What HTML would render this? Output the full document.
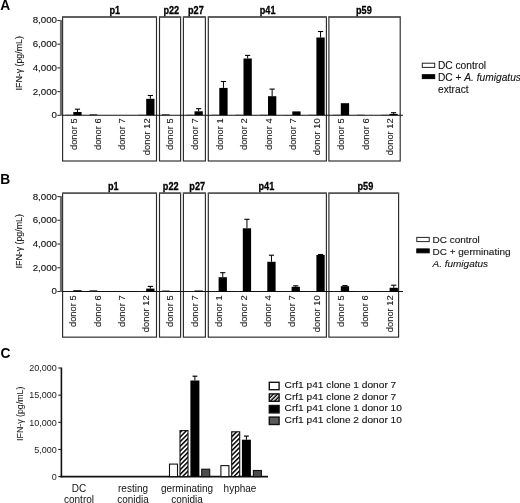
<!DOCTYPE html>
<html><head><meta charset="utf-8"><style>
html,body{margin:0;padding:0;background:#fff;width:520px;height:503px;overflow:hidden}
svg{display:block;font-family:"Liberation Sans", sans-serif;filter:blur(0.35px)}
</style></head><body>
<svg width="520" height="503" viewBox="0 0 520 503">
<defs>
<pattern id="hatch" patternUnits="userSpaceOnUse" width="3.3" height="5" patternTransform="rotate(45)">
<rect width="3.3" height="5" fill="#fff"/><rect width="1.5" height="5" fill="#000"/></pattern>
<pattern id="hatchL" patternUnits="userSpaceOnUse" width="2.9" height="4" patternTransform="rotate(45)">
<rect width="2.9" height="4" fill="#000"/><rect width="1.45" height="4" fill="#fff"/></pattern>
</defs>
<rect width="520" height="503" fill="#fff"/>
<text transform="translate(0.30 9.80)" font-size="13.80" text-anchor="start" font-weight="bold" font-style="normal" fill="#000">A</text>
<text transform="translate(21.60 63.30) scale(0.86 0.92) rotate(-90)" font-size="9.57" text-anchor="middle" font-weight="normal" font-style="normal" fill="#111" stroke="#111" stroke-width="0.12">IFN-γ (pg/mL)</text>
<line x1="57.40" y1="20.50" x2="61.00" y2="20.50" stroke="#333" stroke-width="1.1"/>
<text transform="translate(57.00 23.45) scale(1.0 0.955)" font-size="9.75" text-anchor="end" font-weight="normal" font-style="normal" fill="#111" stroke="#111" stroke-width="0.12">8,000</text>
<line x1="57.40" y1="44.20" x2="61.00" y2="44.20" stroke="#333" stroke-width="1.1"/>
<text transform="translate(57.00 47.15) scale(1.0 0.955)" font-size="9.75" text-anchor="end" font-weight="normal" font-style="normal" fill="#111" stroke="#111" stroke-width="0.12">6,000</text>
<line x1="57.40" y1="67.90" x2="61.00" y2="67.90" stroke="#333" stroke-width="1.1"/>
<text transform="translate(57.00 70.85) scale(1.0 0.955)" font-size="9.75" text-anchor="end" font-weight="normal" font-style="normal" fill="#111" stroke="#111" stroke-width="0.12">4,000</text>
<line x1="57.40" y1="91.60" x2="61.00" y2="91.60" stroke="#333" stroke-width="1.1"/>
<text transform="translate(57.00 94.55) scale(1.0 0.955)" font-size="9.75" text-anchor="end" font-weight="normal" font-style="normal" fill="#111" stroke="#111" stroke-width="0.12">2,000</text>
<line x1="57.40" y1="115.30" x2="61.00" y2="115.30" stroke="#333" stroke-width="1.1"/>
<text transform="translate(57.00 118.25) scale(1.0 0.955)" font-size="9.75" text-anchor="end" font-weight="normal" font-style="normal" fill="#111" stroke="#111" stroke-width="0.12">0</text>
<rect x="62.60" y="17.00" width="93.90" height="144.00" fill="none" stroke="#2a2a2a" stroke-width="1.15" />
<line x1="62.10" y1="17.00" x2="157.00" y2="17.00" stroke="#555" stroke-width="1.5"/>
<text transform="translate(114.80 13.60) scale(0.878 1.0)" font-size="10.40" text-anchor="middle" font-weight="bold" font-style="normal" fill="#000" stroke="#000" stroke-width="0.3">p1</text>
<rect x="159.50" y="17.00" width="21.10" height="144.00" fill="none" stroke="#2a2a2a" stroke-width="1.15" />
<line x1="159.00" y1="17.00" x2="181.10" y2="17.00" stroke="#555" stroke-width="1.5"/>
<text transform="translate(171.30 13.60) scale(0.878 1.0)" font-size="10.40" text-anchor="middle" font-weight="bold" font-style="normal" fill="#000" stroke="#000" stroke-width="0.3">p22</text>
<rect x="183.40" y="17.00" width="22.00" height="144.00" fill="none" stroke="#2a2a2a" stroke-width="1.15" />
<line x1="182.90" y1="17.00" x2="205.90" y2="17.00" stroke="#555" stroke-width="1.5"/>
<text transform="translate(195.90 13.60) scale(0.878 1.0)" font-size="10.40" text-anchor="middle" font-weight="bold" font-style="normal" fill="#000" stroke="#000" stroke-width="0.3">p27</text>
<rect x="208.30" y="17.00" width="118.10" height="144.00" fill="none" stroke="#2a2a2a" stroke-width="1.15" />
<line x1="207.80" y1="17.00" x2="326.90" y2="17.00" stroke="#555" stroke-width="1.5"/>
<text transform="translate(267.60 13.60) scale(0.878 1.0)" font-size="10.40" text-anchor="middle" font-weight="bold" font-style="normal" fill="#000" stroke="#000" stroke-width="0.3">p41</text>
<rect x="328.90" y="17.00" width="71.30" height="144.00" fill="none" stroke="#2a2a2a" stroke-width="1.15" />
<line x1="328.40" y1="17.00" x2="400.70" y2="17.00" stroke="#555" stroke-width="1.5"/>
<text transform="translate(363.90 13.60) scale(0.878 1.0)" font-size="10.40" text-anchor="middle" font-weight="bold" font-style="normal" fill="#000" stroke="#000" stroke-width="0.3">p59</text>
<line x1="62.00" y1="115.30" x2="403.00" y2="115.30" stroke="#111" stroke-width="1.1"/>
<line x1="61.00" y1="20.00" x2="61.00" y2="115.80" stroke="#6e6e6e" stroke-width="2.2"/>
<rect x="65.30" y="114.80" width="7.70" height="0.50" fill="#222" stroke="none" stroke-width="0" />
<rect x="73.30" y="112.00" width="8.30" height="3.30" fill="#000" stroke="none" stroke-width="0" />
<line x1="77.45" y1="112.00" x2="77.45" y2="109.20" stroke="#000" stroke-width="1"/>
<line x1="74.85" y1="109.20" x2="80.05" y2="109.20" stroke="#000" stroke-width="1.1"/>
<text transform="translate(76.80 118.20) scale(0.9 0.92) rotate(-90)" font-size="10.22" text-anchor="end" font-weight="normal" font-style="normal" fill="#111" stroke="#111" stroke-width="0.1">donor 5</text>
<rect x="89.60" y="114.30" width="7.70" height="1.00" fill="#222" stroke="none" stroke-width="0" />
<text transform="translate(101.10 118.20) scale(0.9 0.92) rotate(-90)" font-size="10.22" text-anchor="end" font-weight="normal" font-style="normal" fill="#111" stroke="#111" stroke-width="0.1">donor 6</text>
<text transform="translate(125.40 118.20) scale(0.9 0.92) rotate(-90)" font-size="10.22" text-anchor="end" font-weight="normal" font-style="normal" fill="#111" stroke="#111" stroke-width="0.1">donor 7</text>
<rect x="138.20" y="114.80" width="7.70" height="0.50" fill="#222" stroke="none" stroke-width="0" />
<rect x="146.20" y="98.80" width="8.30" height="16.50" fill="#000" stroke="none" stroke-width="0" />
<line x1="150.35" y1="98.80" x2="150.35" y2="95.50" stroke="#000" stroke-width="1"/>
<line x1="147.75" y1="95.50" x2="152.95" y2="95.50" stroke="#000" stroke-width="1.1"/>
<text transform="translate(149.70 118.20) scale(0.9 0.92) rotate(-90)" font-size="10.22" text-anchor="end" font-weight="normal" font-style="normal" fill="#111" stroke="#111" stroke-width="0.1">donor 12</text>
<rect x="161.90" y="114.30" width="7.70" height="1.00" fill="#222" stroke="none" stroke-width="0" />
<text transform="translate(173.40 118.20) scale(0.9 0.92) rotate(-90)" font-size="10.22" text-anchor="end" font-weight="normal" font-style="normal" fill="#111" stroke="#111" stroke-width="0.1">donor 5</text>
<rect x="186.50" y="114.80" width="7.70" height="0.50" fill="#222" stroke="none" stroke-width="0" />
<rect x="194.50" y="111.30" width="8.30" height="4.00" fill="#000" stroke="none" stroke-width="0" />
<line x1="198.65" y1="111.30" x2="198.65" y2="108.70" stroke="#000" stroke-width="1"/>
<line x1="196.05" y1="108.70" x2="201.25" y2="108.70" stroke="#000" stroke-width="1.1"/>
<text transform="translate(198.00 118.20) scale(0.9 0.92) rotate(-90)" font-size="10.22" text-anchor="end" font-weight="normal" font-style="normal" fill="#111" stroke="#111" stroke-width="0.1">donor 7</text>
<rect x="211.30" y="114.80" width="7.70" height="0.50" fill="#222" stroke="none" stroke-width="0" />
<rect x="219.30" y="87.90" width="8.30" height="27.40" fill="#000" stroke="none" stroke-width="0" />
<line x1="223.45" y1="87.90" x2="223.45" y2="81.50" stroke="#000" stroke-width="1"/>
<line x1="220.85" y1="81.50" x2="226.05" y2="81.50" stroke="#000" stroke-width="1.1"/>
<text transform="translate(222.80 118.20) scale(0.9 0.92) rotate(-90)" font-size="10.22" text-anchor="end" font-weight="normal" font-style="normal" fill="#111" stroke="#111" stroke-width="0.1">donor 1</text>
<rect x="235.50" y="114.80" width="7.70" height="0.50" fill="#222" stroke="none" stroke-width="0" />
<rect x="243.50" y="58.50" width="8.30" height="56.80" fill="#000" stroke="none" stroke-width="0" />
<line x1="247.65" y1="58.50" x2="247.65" y2="55.40" stroke="#000" stroke-width="1"/>
<line x1="245.05" y1="55.40" x2="250.25" y2="55.40" stroke="#000" stroke-width="1.1"/>
<text transform="translate(247.00 118.20) scale(0.9 0.92) rotate(-90)" font-size="10.22" text-anchor="end" font-weight="normal" font-style="normal" fill="#111" stroke="#111" stroke-width="0.1">donor 2</text>
<rect x="260.00" y="114.80" width="7.70" height="0.50" fill="#222" stroke="none" stroke-width="0" />
<rect x="268.00" y="96.20" width="8.30" height="19.10" fill="#000" stroke="none" stroke-width="0" />
<line x1="272.15" y1="96.20" x2="272.15" y2="89.10" stroke="#000" stroke-width="1"/>
<line x1="269.55" y1="89.10" x2="274.75" y2="89.10" stroke="#000" stroke-width="1.1"/>
<text transform="translate(271.50 118.20) scale(0.9 0.92) rotate(-90)" font-size="10.22" text-anchor="end" font-weight="normal" font-style="normal" fill="#111" stroke="#111" stroke-width="0.1">donor 4</text>
<rect x="284.30" y="115.00" width="7.70" height="0.30" fill="#222" stroke="none" stroke-width="0" />
<rect x="292.30" y="111.40" width="8.30" height="3.90" fill="#000" stroke="none" stroke-width="0" />
<text transform="translate(295.80 118.20) scale(0.9 0.92) rotate(-90)" font-size="10.22" text-anchor="end" font-weight="normal" font-style="normal" fill="#111" stroke="#111" stroke-width="0.1">donor 7</text>
<rect x="308.40" y="114.80" width="7.70" height="0.50" fill="#222" stroke="none" stroke-width="0" />
<rect x="316.40" y="37.50" width="8.30" height="77.80" fill="#000" stroke="none" stroke-width="0" />
<line x1="320.55" y1="37.50" x2="320.55" y2="31.50" stroke="#000" stroke-width="1"/>
<line x1="317.95" y1="31.50" x2="323.15" y2="31.50" stroke="#000" stroke-width="1.1"/>
<text transform="translate(319.90 118.20) scale(0.9 0.92) rotate(-90)" font-size="10.22" text-anchor="end" font-weight="normal" font-style="normal" fill="#111" stroke="#111" stroke-width="0.1">donor 10</text>
<rect x="332.80" y="114.80" width="7.70" height="0.50" fill="#222" stroke="none" stroke-width="0" />
<rect x="340.80" y="103.20" width="8.30" height="12.10" fill="#000" stroke="none" stroke-width="0" />
<text transform="translate(344.30 118.20) scale(0.9 0.92) rotate(-90)" font-size="10.22" text-anchor="end" font-weight="normal" font-style="normal" fill="#111" stroke="#111" stroke-width="0.1">donor 5</text>
<rect x="357.10" y="114.80" width="7.70" height="0.50" fill="#222" stroke="none" stroke-width="0" />
<text transform="translate(368.60 118.20) scale(0.9 0.92) rotate(-90)" font-size="10.22" text-anchor="end" font-weight="normal" font-style="normal" fill="#111" stroke="#111" stroke-width="0.1">donor 6</text>
<rect x="381.40" y="114.80" width="7.70" height="0.50" fill="#222" stroke="none" stroke-width="0" />
<rect x="389.40" y="113.90" width="8.30" height="1.40" fill="#000" stroke="none" stroke-width="0" />
<line x1="393.55" y1="113.90" x2="393.55" y2="112.70" stroke="#000" stroke-width="1"/>
<line x1="390.95" y1="112.70" x2="396.15" y2="112.70" stroke="#000" stroke-width="1.1"/>
<text transform="translate(392.90 118.20) scale(0.9 0.92) rotate(-90)" font-size="10.22" text-anchor="end" font-weight="normal" font-style="normal" fill="#111" stroke="#111" stroke-width="0.1">donor 12</text>
<rect x="422.30" y="63.20" width="12.40" height="4.20" fill="#fff" stroke="#222" stroke-width="1.0" />
<rect x="422.30" y="74.70" width="12.40" height="3.90" fill="#000" stroke="#000" stroke-width="1.0" />
<text transform="translate(438.00 68.80) scale(1.0 0.98)" font-size="10.20" text-anchor="start" font-weight="normal" font-style="normal" fill="#111" stroke="#111" stroke-width="0.1">DC control</text>
<text transform="translate(438.00 80.85) scale(1.0 0.98)" font-size="10.20" text-anchor="start" font-weight="normal" font-style="normal" fill="#111" stroke="#111" stroke-width="0.1">DC + <tspan font-style="italic">A. fumigatus</tspan></text>
<text transform="translate(438.00 92.90) scale(1.0 0.98)" font-size="10.20" text-anchor="start" font-weight="normal" font-style="normal" fill="#111" stroke="#111" stroke-width="0.1">extract</text>
<text transform="translate(0.30 184.10) scale(1.0 1.04)" font-size="13.80" text-anchor="start" font-weight="bold" font-style="normal" fill="#000">B</text>
<text transform="translate(21.60 241.30) scale(0.86 0.92) rotate(-90)" font-size="9.57" text-anchor="middle" font-weight="normal" font-style="normal" fill="#111" stroke="#111" stroke-width="0.12">IFN-γ (pg/mL)</text>
<line x1="57.40" y1="196.60" x2="61.00" y2="196.60" stroke="#333" stroke-width="1.1"/>
<text transform="translate(57.00 199.55) scale(1.0 0.955)" font-size="9.75" text-anchor="end" font-weight="normal" font-style="normal" fill="#111" stroke="#111" stroke-width="0.12">8,000</text>
<line x1="57.40" y1="220.32" x2="61.00" y2="220.32" stroke="#333" stroke-width="1.1"/>
<text transform="translate(57.00 223.27) scale(1.0 0.955)" font-size="9.75" text-anchor="end" font-weight="normal" font-style="normal" fill="#111" stroke="#111" stroke-width="0.12">6,000</text>
<line x1="57.40" y1="244.05" x2="61.00" y2="244.05" stroke="#333" stroke-width="1.1"/>
<text transform="translate(57.00 247.00) scale(1.0 0.955)" font-size="9.75" text-anchor="end" font-weight="normal" font-style="normal" fill="#111" stroke="#111" stroke-width="0.12">4,000</text>
<line x1="57.40" y1="267.77" x2="61.00" y2="267.77" stroke="#333" stroke-width="1.1"/>
<text transform="translate(57.00 270.72) scale(1.0 0.955)" font-size="9.75" text-anchor="end" font-weight="normal" font-style="normal" fill="#111" stroke="#111" stroke-width="0.12">2,000</text>
<line x1="57.40" y1="291.50" x2="61.00" y2="291.50" stroke="#333" stroke-width="1.1"/>
<text transform="translate(57.00 294.45) scale(1.0 0.955)" font-size="9.75" text-anchor="end" font-weight="normal" font-style="normal" fill="#111" stroke="#111" stroke-width="0.12">0</text>
<rect x="62.60" y="193.15" width="93.90" height="144.00" fill="none" stroke="#2a2a2a" stroke-width="1.15" />
<line x1="62.10" y1="193.15" x2="157.00" y2="193.15" stroke="#555" stroke-width="1.5"/>
<text transform="translate(113.20 189.55) scale(0.878 1.0)" font-size="10.40" text-anchor="middle" font-weight="bold" font-style="normal" fill="#000" stroke="#000" stroke-width="0.3">p1</text>
<rect x="159.50" y="193.15" width="21.10" height="144.00" fill="none" stroke="#2a2a2a" stroke-width="1.15" />
<line x1="159.00" y1="193.15" x2="181.10" y2="193.15" stroke="#555" stroke-width="1.5"/>
<text transform="translate(170.70 189.55) scale(0.878 1.0)" font-size="10.40" text-anchor="middle" font-weight="bold" font-style="normal" fill="#000" stroke="#000" stroke-width="0.3">p22</text>
<rect x="183.40" y="193.15" width="22.00" height="144.00" fill="none" stroke="#2a2a2a" stroke-width="1.15" />
<line x1="182.90" y1="193.15" x2="205.90" y2="193.15" stroke="#555" stroke-width="1.5"/>
<text transform="translate(197.20 189.55) scale(0.878 1.0)" font-size="10.40" text-anchor="middle" font-weight="bold" font-style="normal" fill="#000" stroke="#000" stroke-width="0.3">p27</text>
<rect x="208.30" y="193.15" width="118.10" height="144.00" fill="none" stroke="#2a2a2a" stroke-width="1.15" />
<line x1="207.80" y1="193.15" x2="326.90" y2="193.15" stroke="#555" stroke-width="1.5"/>
<text transform="translate(266.40 189.55) scale(0.878 1.0)" font-size="10.40" text-anchor="middle" font-weight="bold" font-style="normal" fill="#000" stroke="#000" stroke-width="0.3">p41</text>
<rect x="328.90" y="193.15" width="69.70" height="144.00" fill="none" stroke="#2a2a2a" stroke-width="1.15" />
<line x1="328.40" y1="193.15" x2="399.10" y2="193.15" stroke="#555" stroke-width="1.5"/>
<text transform="translate(365.40 189.55) scale(0.878 1.0)" font-size="10.40" text-anchor="middle" font-weight="bold" font-style="normal" fill="#000" stroke="#000" stroke-width="0.3">p59</text>
<line x1="62.00" y1="291.50" x2="403.00" y2="291.50" stroke="#111" stroke-width="1.1"/>
<line x1="61.00" y1="196.10" x2="61.00" y2="292.00" stroke="#6e6e6e" stroke-width="2.2"/>
<rect x="65.30" y="291.00" width="7.70" height="0.50" fill="#222" stroke="none" stroke-width="0" />
<rect x="73.30" y="290.20" width="8.30" height="1.30" fill="#000" stroke="none" stroke-width="0" />
<text transform="translate(76.40 295.20) scale(0.9 0.92) rotate(-90)" font-size="10.22" text-anchor="end" font-weight="normal" font-style="normal" fill="#111" stroke="#111" stroke-width="0.1">donor 5</text>
<rect x="89.60" y="290.30" width="7.70" height="1.20" fill="#222" stroke="none" stroke-width="0" />
<text transform="translate(100.70 295.20) scale(0.9 0.92) rotate(-90)" font-size="10.22" text-anchor="end" font-weight="normal" font-style="normal" fill="#111" stroke="#111" stroke-width="0.1">donor 6</text>
<text transform="translate(125.00 295.20) scale(0.9 0.92) rotate(-90)" font-size="10.22" text-anchor="end" font-weight="normal" font-style="normal" fill="#111" stroke="#111" stroke-width="0.1">donor 7</text>
<rect x="138.20" y="291.00" width="7.70" height="0.50" fill="#222" stroke="none" stroke-width="0" />
<rect x="146.20" y="288.60" width="8.30" height="2.90" fill="#000" stroke="none" stroke-width="0" />
<line x1="150.35" y1="288.60" x2="150.35" y2="286.40" stroke="#000" stroke-width="1"/>
<line x1="147.75" y1="286.40" x2="152.95" y2="286.40" stroke="#000" stroke-width="1.1"/>
<text transform="translate(149.30 295.20) scale(0.9 0.92) rotate(-90)" font-size="10.22" text-anchor="end" font-weight="normal" font-style="normal" fill="#111" stroke="#111" stroke-width="0.1">donor 12</text>
<rect x="161.90" y="290.50" width="7.70" height="1.00" fill="#222" stroke="none" stroke-width="0" />
<text transform="translate(173.00 295.20) scale(0.9 0.92) rotate(-90)" font-size="10.22" text-anchor="end" font-weight="normal" font-style="normal" fill="#111" stroke="#111" stroke-width="0.1">donor 5</text>
<rect x="186.50" y="291.00" width="7.70" height="0.50" fill="#222" stroke="none" stroke-width="0" />
<rect x="194.50" y="290.50" width="8.30" height="1.00" fill="#000" stroke="none" stroke-width="0" />
<text transform="translate(197.60 295.20) scale(0.9 0.92) rotate(-90)" font-size="10.22" text-anchor="end" font-weight="normal" font-style="normal" fill="#111" stroke="#111" stroke-width="0.1">donor 7</text>
<rect x="211.30" y="291.00" width="7.70" height="0.50" fill="#222" stroke="none" stroke-width="0" />
<rect x="218.60" y="277.20" width="8.30" height="14.30" fill="#000" stroke="none" stroke-width="0" />
<line x1="222.75" y1="277.20" x2="222.75" y2="272.70" stroke="#000" stroke-width="1"/>
<line x1="220.15" y1="272.70" x2="225.35" y2="272.70" stroke="#000" stroke-width="1.1"/>
<text transform="translate(222.40 295.20) scale(0.9 0.92) rotate(-90)" font-size="10.22" text-anchor="end" font-weight="normal" font-style="normal" fill="#111" stroke="#111" stroke-width="0.1">donor 1</text>
<rect x="235.50" y="291.00" width="7.70" height="0.50" fill="#222" stroke="none" stroke-width="0" />
<rect x="242.80" y="228.30" width="8.30" height="63.20" fill="#000" stroke="none" stroke-width="0" />
<line x1="246.95" y1="228.30" x2="246.95" y2="219.30" stroke="#000" stroke-width="1"/>
<line x1="244.35" y1="219.30" x2="249.55" y2="219.30" stroke="#000" stroke-width="1.1"/>
<text transform="translate(246.60 295.20) scale(0.9 0.92) rotate(-90)" font-size="10.22" text-anchor="end" font-weight="normal" font-style="normal" fill="#111" stroke="#111" stroke-width="0.1">donor 2</text>
<rect x="260.00" y="291.00" width="7.70" height="0.50" fill="#222" stroke="none" stroke-width="0" />
<rect x="267.30" y="261.80" width="8.30" height="29.70" fill="#000" stroke="none" stroke-width="0" />
<line x1="271.45" y1="261.80" x2="271.45" y2="255.20" stroke="#000" stroke-width="1"/>
<line x1="268.85" y1="255.20" x2="274.05" y2="255.20" stroke="#000" stroke-width="1.1"/>
<text transform="translate(271.10 295.20) scale(0.9 0.92) rotate(-90)" font-size="10.22" text-anchor="end" font-weight="normal" font-style="normal" fill="#111" stroke="#111" stroke-width="0.1">donor 4</text>
<rect x="284.30" y="291.00" width="7.70" height="0.50" fill="#222" stroke="none" stroke-width="0" />
<rect x="291.60" y="286.80" width="8.30" height="4.70" fill="#000" stroke="none" stroke-width="0" />
<line x1="295.75" y1="286.80" x2="295.75" y2="285.80" stroke="#000" stroke-width="1"/>
<line x1="293.15" y1="285.80" x2="298.35" y2="285.80" stroke="#000" stroke-width="1.1"/>
<text transform="translate(295.40 295.20) scale(0.9 0.92) rotate(-90)" font-size="10.22" text-anchor="end" font-weight="normal" font-style="normal" fill="#111" stroke="#111" stroke-width="0.1">donor 7</text>
<rect x="308.40" y="291.00" width="7.70" height="0.50" fill="#222" stroke="none" stroke-width="0" />
<rect x="316.40" y="255.00" width="8.30" height="36.50" fill="#000" stroke="none" stroke-width="0" />
<line x1="320.55" y1="255.00" x2="320.55" y2="254.50" stroke="#000" stroke-width="1"/>
<line x1="317.95" y1="254.50" x2="323.15" y2="254.50" stroke="#000" stroke-width="1.1"/>
<text transform="translate(319.50 295.20) scale(0.9 0.92) rotate(-90)" font-size="10.22" text-anchor="end" font-weight="normal" font-style="normal" fill="#111" stroke="#111" stroke-width="0.1">donor 10</text>
<rect x="332.80" y="291.00" width="7.70" height="0.50" fill="#222" stroke="none" stroke-width="0" />
<rect x="340.80" y="286.20" width="8.30" height="5.30" fill="#000" stroke="none" stroke-width="0" />
<line x1="344.95" y1="286.20" x2="344.95" y2="285.60" stroke="#000" stroke-width="1"/>
<line x1="342.35" y1="285.60" x2="347.55" y2="285.60" stroke="#000" stroke-width="1.1"/>
<text transform="translate(343.90 295.20) scale(0.9 0.92) rotate(-90)" font-size="10.22" text-anchor="end" font-weight="normal" font-style="normal" fill="#111" stroke="#111" stroke-width="0.1">donor 5</text>
<rect x="357.10" y="291.00" width="7.70" height="0.50" fill="#222" stroke="none" stroke-width="0" />
<text transform="translate(368.20 295.20) scale(0.9 0.92) rotate(-90)" font-size="10.22" text-anchor="end" font-weight="normal" font-style="normal" fill="#111" stroke="#111" stroke-width="0.1">donor 6</text>
<rect x="381.60" y="291.00" width="7.70" height="0.50" fill="#222" stroke="none" stroke-width="0" />
<rect x="389.60" y="287.80" width="8.30" height="3.70" fill="#000" stroke="none" stroke-width="0" />
<line x1="393.75" y1="287.80" x2="393.75" y2="285.20" stroke="#000" stroke-width="1"/>
<line x1="391.15" y1="285.20" x2="396.35" y2="285.20" stroke="#000" stroke-width="1.1"/>
<text transform="translate(392.70 295.20) scale(0.9 0.92) rotate(-90)" font-size="10.22" text-anchor="end" font-weight="normal" font-style="normal" fill="#111" stroke="#111" stroke-width="0.1">donor 12</text>
<rect x="416.80" y="237.40" width="12.40" height="4.20" fill="#fff" stroke="#222" stroke-width="1.0" />
<rect x="416.80" y="248.90" width="12.40" height="3.90" fill="#000" stroke="#000" stroke-width="1.0" />
<text transform="translate(432.50 242.60) scale(1.0 0.98)" font-size="10.00" text-anchor="start" font-weight="normal" font-style="normal" fill="#111" stroke="#111" stroke-width="0.1">DC control</text>
<text transform="translate(432.50 254.65) scale(1.0 0.98)" font-size="10.00" text-anchor="start" font-weight="normal" font-style="normal" fill="#111" stroke="#111" stroke-width="0.1">DC + germinating</text>
<text transform="translate(432.50 266.70) scale(1.0 0.98)" font-size="10.00" text-anchor="start" font-weight="normal" font-style="normal" fill="#111" stroke="#111" stroke-width="0.1"><tspan font-style="italic">A. fumigatus</tspan></text>
<text transform="translate(0.60 357.50) scale(1.0 1.08)" font-size="13.80" text-anchor="start" font-weight="bold" font-style="normal" fill="#000">C</text>
<text transform="translate(23.00 413.80) scale(1.0 0.92) rotate(-90)" font-size="9.57" text-anchor="middle" font-weight="normal" font-style="normal" fill="#222" stroke="#222" stroke-width="0.08">IFN-γ (pg/mL)</text>
<line x1="58.30" y1="368.00" x2="61.00" y2="368.00" stroke="#111" stroke-width="1"/>
<text transform="translate(56.80 371.30) scale(1.0 0.92)" font-size="9.00" text-anchor="end" font-weight="normal" font-style="normal" fill="#222">20,000</text>
<line x1="58.30" y1="395.15" x2="61.00" y2="395.15" stroke="#111" stroke-width="1"/>
<text transform="translate(56.80 398.45) scale(1.0 0.92)" font-size="9.00" text-anchor="end" font-weight="normal" font-style="normal" fill="#222">15,000</text>
<line x1="58.30" y1="422.30" x2="61.00" y2="422.30" stroke="#111" stroke-width="1"/>
<text transform="translate(56.80 425.60) scale(1.0 0.92)" font-size="9.00" text-anchor="end" font-weight="normal" font-style="normal" fill="#222">10,000</text>
<line x1="58.30" y1="449.45" x2="61.00" y2="449.45" stroke="#111" stroke-width="1"/>
<text transform="translate(56.80 452.75) scale(1.0 0.92)" font-size="9.00" text-anchor="end" font-weight="normal" font-style="normal" fill="#222">5,000</text>
<line x1="58.30" y1="476.60" x2="61.00" y2="476.60" stroke="#111" stroke-width="1"/>
<text transform="translate(56.80 479.90) scale(1.0 0.92)" font-size="9.00" text-anchor="end" font-weight="normal" font-style="normal" fill="#222">0</text>
<line x1="61.40" y1="367.50" x2="61.40" y2="477.40" stroke="#111" stroke-width="1.6"/>
<line x1="60.60" y1="476.60" x2="268.00" y2="476.60" stroke="#111" stroke-width="1.7"/>
<rect x="169.50" y="464.10" width="8.00" height="12.50" fill="#fff" stroke="#111" stroke-width="1.1" />
<rect x="180.00" y="430.60" width="8.00" height="46.00" fill="url(#hatch)" stroke="#111" stroke-width="1.1" />
<rect x="190.40" y="380.50" width="9.00" height="96.10" fill="#000" stroke="none" stroke-width="0" />
<line x1="194.90" y1="380.50" x2="194.90" y2="376.20" stroke="#000" stroke-width="1"/>
<line x1="192.50" y1="376.20" x2="197.30" y2="376.20" stroke="#000" stroke-width="1.2"/>
<rect x="201.70" y="469.20" width="8.00" height="7.40" fill="#4d4d4d" stroke="#111" stroke-width="1.1" />
<rect x="220.90" y="465.60" width="8.00" height="11.00" fill="#fff" stroke="#111" stroke-width="1.1" />
<rect x="231.70" y="431.80" width="8.00" height="44.80" fill="url(#hatch)" stroke="#111" stroke-width="1.1" />
<rect x="241.90" y="439.70" width="9.00" height="36.90" fill="#000" stroke="none" stroke-width="0" />
<line x1="246.40" y1="439.70" x2="246.40" y2="436.10" stroke="#000" stroke-width="1"/>
<line x1="244.00" y1="436.10" x2="248.80" y2="436.10" stroke="#000" stroke-width="1.2"/>
<rect x="253.40" y="470.50" width="8.00" height="6.10" fill="#4d4d4d" stroke="#111" stroke-width="1.1" />
<text transform="translate(79.00 491.70) scale(1.0 1.1)" font-size="10.00" text-anchor="middle" font-weight="normal" font-style="normal" fill="#111">DC</text>
<text transform="translate(79.00 503.00) scale(1.0 1.1)" font-size="10.00" text-anchor="middle" font-weight="normal" font-style="normal" fill="#111">control</text>
<text transform="translate(133.00 491.70) scale(1.0 1.1)" font-size="10.00" text-anchor="middle" font-weight="normal" font-style="normal" fill="#111">resting</text>
<text transform="translate(133.00 503.00) scale(1.0 1.1)" font-size="10.00" text-anchor="middle" font-weight="normal" font-style="normal" fill="#111">conidia</text>
<text transform="translate(187.00 491.70) scale(1.0 1.1)" font-size="10.00" text-anchor="middle" font-weight="normal" font-style="normal" fill="#111">germinating</text>
<text transform="translate(187.00 503.00) scale(1.0 1.1)" font-size="10.00" text-anchor="middle" font-weight="normal" font-style="normal" fill="#111">conidia</text>
<text transform="translate(240.00 491.70) scale(1.0 1.1)" font-size="10.00" text-anchor="middle" font-weight="normal" font-style="normal" fill="#111">hyphae</text>
<rect x="269.30" y="382.30" width="9.80" height="7.40" fill="#fff" stroke="#111" stroke-width="1.4" />
<text transform="translate(284.60 388.20) scale(1.0 0.95)" font-size="10.15" text-anchor="start" font-weight="normal" font-style="normal" fill="#111" stroke="#111" stroke-width="0.12">Crf1 p41 clone 1 donor 7</text>
<rect x="269.30" y="393.90" width="9.80" height="7.40" fill="url(#hatchL)" stroke="#111" stroke-width="1.4" />
<text transform="translate(284.60 399.80) scale(1.0 0.95)" font-size="10.15" text-anchor="start" font-weight="normal" font-style="normal" fill="#111" stroke="#111" stroke-width="0.12">Crf1 p41 clone 2 donor 7</text>
<rect x="269.30" y="405.50" width="9.80" height="7.40" fill="#000" stroke="#111" stroke-width="1.4" />
<text transform="translate(284.60 411.40) scale(1.0 0.95)" font-size="10.15" text-anchor="start" font-weight="normal" font-style="normal" fill="#111" stroke="#111" stroke-width="0.12">Crf1 p41 clone 1 donor 10</text>
<rect x="269.30" y="417.10" width="9.80" height="7.40" fill="#5a5a5a" stroke="#111" stroke-width="1.4" />
<text transform="translate(284.60 423.00) scale(1.0 0.95)" font-size="10.15" text-anchor="start" font-weight="normal" font-style="normal" fill="#111" stroke="#111" stroke-width="0.12">Crf1 p41 clone 2 donor 10</text>
</svg>
</body></html>
